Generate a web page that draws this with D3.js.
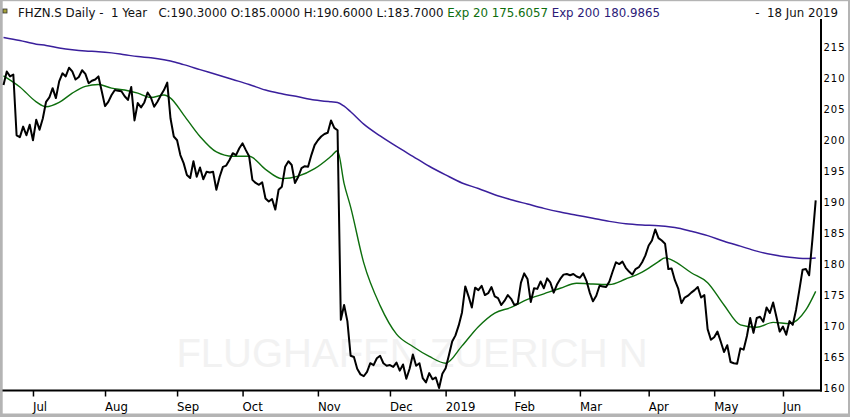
<!DOCTYPE html>
<html>
<head>
<meta charset="utf-8">
<script src="https://cdn.jsdelivr.net/npm/d3@7/dist/d3.min.js"></script>
<style>
body { margin: 0; background: #fff; }
svg { display: block; }
</style>
</head>
<body>
<svg id="chart"></svg>
<script>
"use strict";

var width = 850,
    height = 417;

// first and last bar, and the SIX exchange holidays in between
var firstDay = '2018-06-19',
    lastDay = '2019-06-18';
var holidays = ['2018-08-01', '2018-12-24', '2018-12-25', '2018-12-26', '2018-12-31',
  '2019-01-01', '2019-01-02', '2019-04-19', '2019-04-22', '2019-05-01',
  '2019-05-30', '2019-06-10'];

// daily closes, one per trading day
var closes = [
  208.9, 211.1, 210.3, 210.6, 200.8, 200.5, 202.2, 200.8, 202.5, 200.0,
  203.3, 201.7, 203.5, 206.2, 206.9, 208.4, 206.8, 209.5, 210.8, 210.3,
  211.7, 211.1, 209.8, 210.2, 211.3, 210.7, 209.2, 209.6, 209.8, 210.3,
  207.9, 205.5, 206.2, 207.3, 208.1, 208.0, 207.9, 207.1, 206.5, 208.6,
  203.2, 206.0, 205.3, 206.1, 207.7, 206.9, 205.4, 206.2, 207.2, 208.1,
  209.3, 203.5, 200.6, 200.0, 197.6, 196.3, 194.4, 193.9, 196.6, 194.1,
  195.6, 193.7, 194.9, 194.8, 194.9, 192.0, 194.1, 195.7, 195.9, 196.8,
  197.9, 197.6, 198.7, 199.5, 198.4, 197.4, 193.6, 193.1, 192.8, 193.2,
  190.6, 190.1, 190.5, 188.8, 192.0, 192.5, 195.7, 196.6, 196.0, 193.1,
  194.1, 195.5, 195.8, 195.7, 197.6, 199.2, 200.0, 200.6, 201.0, 201.2,
  203.2, 202.0, 201.6, 171.0, 173.4, 170.8, 165.2, 165.0, 163.1, 162.2,
  161.9, 162.6, 164.0, 163.7, 164.8, 165.2, 164.0, 163.6, 163.7, 163.4,
  164.1, 162.8, 163.8, 161.5, 163.1, 165.4, 163.6, 164.0, 161.6, 160.9,
  162.4, 161.4, 161.7, 160.0, 162.3, 163.2, 165.3, 167.5, 168.5, 170.1,
  172.2, 176.4, 174.8, 173.0, 176.2, 175.8, 176.5, 175.0, 175.3, 176.3,
  174.8, 174.5, 173.4, 174.1, 175.0, 174.4, 173.4, 173.6, 177.0, 178.5,
  177.6, 173.9, 176.1, 176.0, 177.2, 176.1, 177.7, 177.0, 175.4, 176.7,
  177.6, 178.3, 178.4, 178.2, 178.4, 178.0, 177.8, 178.5, 177.3, 175.4,
  174.0, 174.9, 176.5, 176.4, 176.3, 177.2, 178.8, 180.3, 180.0, 180.4,
  179.4, 178.8, 178.3, 179.2, 179.5, 180.3, 181.4, 183.0, 183.8, 185.6,
  184.2, 183.8, 183.3, 179.2, 179.3, 177.4, 176.1, 173.7, 174.6, 174.9,
  175.4, 175.8, 176.3, 174.6, 175.0, 169.5, 167.8, 168.2, 169.1, 167.5,
  165.8, 166.9, 164.2, 164.0, 163.9, 166.4, 166.2, 168.4, 171.3, 168.9,
  171.3, 171.5, 170.7, 173.0, 172.1, 173.8, 171.5, 169.1, 169.9, 168.6,
  170.8, 170.2, 172.6, 175.8, 179.1, 179.2, 178.2, 184.0, 190.3
];

// trading-day numbers (from the first bar) at which the averages were read
var emaDays = [0, 5, 10, 13, 17, 21, 25, 29, 33, 37, 41, 45, 49, 51, 55, 60, 65, 70, 75, 80,
  85, 90, 95, 100, 102, 104, 106, 110, 115, 120, 125, 130, 135, 140, 145, 150, 155, 160, 165, 170,
  175, 180, 185, 190, 195, 200, 202, 205, 210, 215, 220, 225, 230, 235, 240, 245, 248];

var ema20 = [210.4, 208.6, 206.2, 205.4, 206.1, 207.6, 208.7, 209.0, 208.4, 208.1,
  207.6, 206.9, 207.3, 206.8, 204.1, 200.6, 198.1, 197.4, 197.4, 195.3,
  193.8, 194.2, 195.4, 197.4, 198.3, 193.0, 189.2, 180.2, 173.3, 168.7,
  166.7, 165.1, 164.0, 166.8, 169.9, 172.1, 173.0, 174.3, 175.2, 176.1,
  176.9, 176.8, 176.7, 177.6, 178.7, 180.4, 181.0, 180.4, 178.6, 177.0,
  173.4, 170.2, 169.8, 170.6, 170.4, 172.6, 175.6];

var ema200 = [216.6, 216.1, 215.5, 215.3, 214.9, 214.6, 214.4, 214.3, 214.1, 213.8,
  213.5, 213.3, 213.0, 212.8, 212.2, 211.4, 210.6, 209.8, 209.0, 208.1,
  207.5, 207.0, 206.5, 206.2, 206.1, 205.5, 204.6, 202.6, 200.7, 199.0,
  197.4, 195.8, 194.4, 193.1, 192.2, 191.2, 190.4, 189.7, 189.0, 188.4,
  187.9, 187.4, 186.9, 186.5, 186.3, 186.2, 186.1, 185.9, 185.3, 184.6,
  183.7, 182.9, 182.1, 181.5, 181.1, 180.9, 181.0];

var yTicks = [160, 165, 170, 175, 180, 185, 190, 195, 200, 205, 210, 215];

var title = 'FHZN.S Daily -  1 Year   C:190.3000 O:185.0000 H:190.6000 L:183.7000 ',
    ema20Label = 'Exp 20 175.6057 ',
    ema200Label = 'Exp 200 180.9865',
    dateLabel = '-  18 Jun 2019',
    watermark = 'FLUGHAFEN ZUERICH N';

var colors = { close: '#000000', ema20: '#0d6e0d', ema200: '#3a1f9c', ema200Text: '#2b1a78' };

var svg = d3.select('#chart').attr('width', width).attr('height', height);

var parse = d3.timeParse('%Y-%m-%d'),
    fmt = d3.timeFormat('%Y-%m-%d');

var days = d3.timeDay.range(parse(firstDay), d3.timeDay.offset(parse(lastDay), 1))
  .filter(function(d) {
    var w = d.getDay();
    return w > 0 && w < 6 && holidays.indexOf(fmt(d)) < 0;
  });
console.log('trading days', days.length, 'closes', closes.length);

var plot = { left: 3.5, right: 815.7, top: 47.3, bottom: 388, axisX: 821, axisY: 390.5 };

var x = d3.scaleLinear().domain([0, days.length - 1]).range([plot.left, plot.right]);
var y = d3.scaleLinear().domain([160, 215]).range([plot.bottom, plot.top]);

// frame
svg.append('rect').attr('width', width).attr('height', height).attr('fill', '#fff');
svg.append('rect').attr('x', 0).attr('y', 0).attr('width', 2.7).attr('height', height).attr('fill', '#b4b4b4');
svg.append('rect').attr('x', 0).attr('y', 413.5).attr('width', width).attr('height', 3.5).attr('fill', '#b4b4b4');
svg.append('rect').attr('x', 0).attr('y', 0).attr('width', width).attr('height', 1.2).attr('fill', '#b4b4b4');
svg.append('rect').attr('x', 848).attr('y', 0).attr('width', 2).attr('height', height).attr('fill', '#b4b4b4');

// watermark
svg.append('text')
  .attr('x', 412).attr('y', 367)
  .attr('text-anchor', 'middle')
  .attr('font-family', 'Liberation Sans, Arial, sans-serif')
  .attr('font-size', 40)
  .attr('fill', '#f2f2f2')
  .text(watermark);

// moving averages
var emaLine = d3.line()
  .x(function(d) { return x(d[0]); })
  .y(function(d) { return y(d[1]); })
  .curve(d3.curveMonotoneX);

svg.append('path')
  .datum(d3.zip(emaDays, ema200))
  .attr('d', emaLine)
  .attr('fill', 'none')
  .attr('stroke', colors.ema200)
  .attr('stroke-width', 1.5);

svg.append('path')
  .datum(d3.zip(emaDays, ema20))
  .attr('d', emaLine)
  .attr('fill', 'none')
  .attr('stroke', colors.ema20)
  .attr('stroke-width', 1.4);

// close
var closeLine = d3.line()
  .x(function(d, i) { return x(i); })
  .y(function(d) { return y(d); });

svg.append('path')
  .datum(closes)
  .attr('d', closeLine)
  .attr('fill', 'none')
  .attr('stroke', colors.close)
  .attr('stroke-width', 2)
  .attr('stroke-linejoin', 'round');

// bottom axis: one tick on the first trading day of each month
var monthStarts = d3.range(1, days.length).filter(function(i) {
  return days[i].getMonth() !== days[i - 1].getMonth();
});

var xAxis = d3.axisBottom(x)
  .tickValues(monthStarts)
  .tickSize(6)
  .tickSizeOuter(0)
  .tickFormat(function(i) {
    var d = days[i];
    return d.getMonth() === 0 ? d3.timeFormat('%Y')(d) : d3.timeFormat('%b')(d);
  });

var gx = svg.append('g')
  .attr('transform', 'translate(0,' + plot.axisY + ')')
  .call(xAxis);
gx.select('.domain').remove();
gx.selectAll('.tick line').attr('stroke', '#000').attr('stroke-width', 1.5);
gx.selectAll('.tick text')
  .attr('fill', '#000')
  .attr('text-anchor', 'start')
  .attr('x', -0.5)
  .attr('y', 20.5)
  .attr('dy', 0)
  .attr('font-family', 'DejaVu Sans Condensed, DejaVu Sans, sans-serif')
  .style('font-stretch', 'condensed')
  .attr('font-size', 13);

svg.append('line')
  .attr('x1', plot.left - 1).attr('x2', plot.axisX + 1)
  .attr('y1', plot.axisY).attr('y2', plot.axisY)
  .attr('stroke', '#000').attr('stroke-width', 2);

// right axis
var yAxis = d3.axisRight(y)
  .tickValues(yTicks)
  .tickSize(0)
  .tickPadding(2.5);

var gy = svg.append('g')
  .attr('transform', 'translate(' + plot.axisX + ',0)')
  .call(yAxis);
gy.select('.domain').remove();
gy.selectAll('.tick text')
  .attr('fill', '#000')
  .attr('font-family', 'DejaVu Sans, sans-serif')
  .attr('font-size', 10)
  .attr('letter-spacing', 1);

svg.append('line')
  .attr('x1', plot.axisX).attr('x2', plot.axisX)
  .attr('y1', 19).attr('y2', plot.axisY + 1)
  .attr('stroke', '#000').attr('stroke-width', 2);

// header
svg.append('rect')
  .attr('x', 3).attr('y', 9).attr('width', 4).attr('height', 4)
  .attr('fill', '#a6a23a').attr('stroke', '#333').attr('stroke-width', 0.8);

var head = svg.append('text')
  .attr('x', 18).attr('y', 17)
  .attr('font-family', 'DejaVu Sans, Verdana, sans-serif')
  .attr('font-size', 11.8)
  .style('white-space', 'pre');
head.append('tspan').attr('fill', '#111').text(title);
head.append('tspan').attr('fill', colors.ema20).text(ema20Label);
head.append('tspan').attr('fill', colors.ema200Text).text(ema200Label);

// squeeze the left block so it ends where the reference does
var headLen = head.node().getComputedTextLength();
if (headLen > 657) head.attr('textLength', 657).attr('lengthAdjust', 'spacingAndGlyphs');

svg.append('text')
  .attr('x', 838).attr('y', 17)
  .attr('text-anchor', 'end')
  .attr('font-family', 'DejaVu Sans, Verdana, sans-serif')
  .attr('font-size', 11.8)
  .style('white-space', 'pre')
  .attr('fill', '#111')
  .text(dateLabel);
</script>
</body>
</html>
